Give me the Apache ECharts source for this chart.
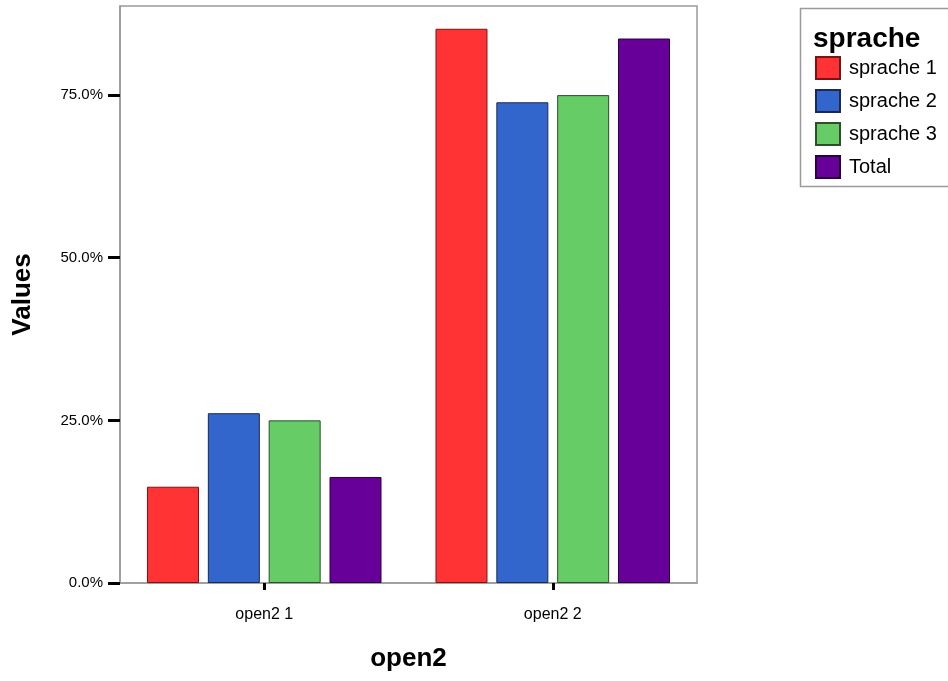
<!DOCTYPE html>
<html>
<head>
<meta charset="utf-8">
<script src="https://cdn.jsdelivr.net/npm/echarts@6/dist/echarts.min.js"></script>
<style>html,body{margin:0;padding:0;background:#fff}#c{width:948px;height:681px}</style>
</head>
<body>
<div id="c"></div>
<script>
const categories = ['open2 1', 'open2 2'];
const seriesNames = ['sprache 1', 'sprache 2', 'sprache 3', 'Total'];
const sprache1 = [14.8, 85.2];
const sprache2 = [26.1, 73.9];
const sprache3 = [25.0, 75.0];
const total = [16.3, 83.7];
const yTicks = [0, 25, 50, 75];
const yMax = 88.7;
const colors = ['#ff3333', '#3366cc', '#66cc66', '#660099'];
const borders = ['#7a1414', '#1a2a55', '#2d4d2d', '#2a0040'];
const values = [sprache1, sprache2, sprache3, total];

const chart = echarts.init(document.getElementById('c'));
const font = 'Liberation Sans, Arial, sans-serif';
chart.setOption({
  animation: false,
  textStyle: { fontFamily: font },
  grid: { left: 120, right: 251, top: 6, bottom: 98, show: true, borderColor: '#9a9a9a', borderWidth: 1.5, containLabel: false },
  legend: {
    data: seriesNames,
    orient: 'vertical',
    left: 815,
    top: 56,
    padding: 0,
    itemWidth: 24,
    itemHeight: 22,
    itemGap: 9,
    selectedMode: false,
    textStyle: { fontSize: 20, color: '#000', fontFamily: font, padding: [0, 0, 0, 4] },
    icon: 'rect'
  },
  graphic: [
    { type: 'rect', shape: { x: 800.5, y: 8.5, width: 160, height: 178 }, style: { fill: 'none', stroke: '#9a9a9a', lineWidth: 1.5 } },
    { type: 'text', x: 813, y: 39, style: { text: 'sprache', font: 'bold 28px ' + font, fill: '#000', verticalAlign: 'middle' } }
  ],
  xAxis: {
    type: 'category',
    data: categories,
    name: 'open2',
    nameLocation: 'middle',
    nameGap: 63,
    nameTextStyle: { fontSize: 26, fontWeight: 'bold', color: '#000' },
    axisLine: { show: true, lineStyle: { color: '#9a9a9a', width: 1.5 } },
    axisTick: { show: true, alignWithLabel: true, length: 7, lineStyle: { color: '#000', width: 3 } },
    axisLabel: { fontSize: 16, color: '#000', margin: 24 }
  },
  yAxis: {
    type: 'value',
    min: 0,
    max: yMax,
    interval: 25,
    name: 'Values',
    nameLocation: 'middle',
    nameGap: 84,
    nameTextStyle: { fontSize: 26, fontWeight: 'bold', color: '#000' },
    splitLine: { show: false },
    axisLine: { show: true, lineStyle: { color: '#9a9a9a', width: 1.5 } },
    axisTick: { show: true, length: 12, customValues: yTicks, lineStyle: { color: '#000', width: 3 } },
    axisLabel: { fontSize: 15, color: '#000', margin: 17, customValues: yTicks, formatter: v => v.toFixed(1) + '%' }
  },
  series: seriesNames.map((n, i) => ({
    name: n,
    type: 'bar',
    data: values[i],
    barWidth: 52,
    barGap: '17%',
    itemStyle: { color: colors[i], borderColor: borders[i], borderWidth: 1 }
  }))
});
</script>
</body>
</html>
